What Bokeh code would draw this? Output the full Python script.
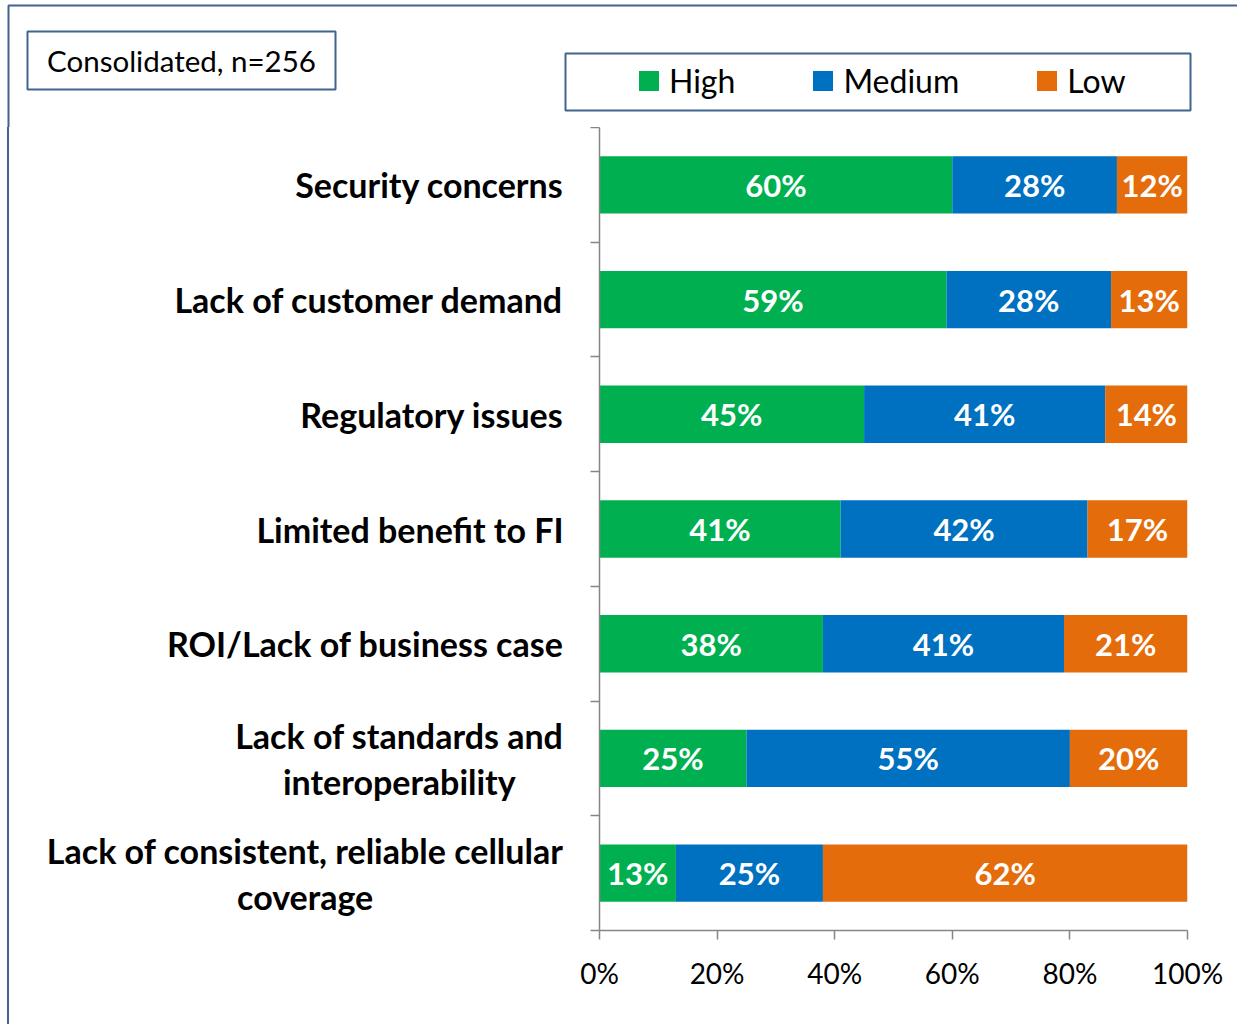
from bokeh.plotting import figure
from bokeh.layouts import column, row
from bokeh.models import (Range1d, FixedTicker, ColumnDataSource, Legend, LegendItem,
                          BoxAnnotation, Label, PrintfTickFormatter, Div)
from bokeh.core.properties import value
from bokeh.embed import file_html
from bokeh.resources import INLINE

# ---------------- data ----------------
categories = [
    "Security concerns",
    "Lack of customer demand",
    "Regulatory issues",
    "Limited benefit to FI",
    "ROI/Lack of business case",
    "Lack of standards and\ninteroperability",
    "Lack of consistent, reliable cellular\ncoverage",
]
high = [60, 59, 45, 41, 38, 25, 13]
medium = [28, 28, 41, 42, 41, 55, 25]
low = [12, 13, 14, 17, 21, 20, 62]
series_names = ["High", "Medium", "Low"]
colors = ["#00B050", "#0070C0", "#E46C0A"]
x_ticks = [0, 20, 40, 60, 80, 100]
note_text = "Consolidated, n=256"

# ---------------- style / layout constants ----------------
FONT = "Lato"
AXIS_GRAY = "#868686"
BORDER_BLUE = "#41648F"
W, H = 1237, 1024
HEADER_H = 127          # header strip height
EDGE_W = 10             # strip carrying the outer border's left line
LEFT_W = 570            # right edge of category-label strip
FRAME_L, FRAME_R = 599, 1187
FRAME_B = 930

n = len(categories)
ypos = [n - 1 - i for i in range(n)]
bottom_pad = H - FRAME_B

def bare(fig):
    fig.outline_line_color = None
    fig.background_fill_color = "white"
    fig.border_fill_color = "white"
    return fig

def box(l, r, t, b):
    return BoxAnnotation(left=l, right=r, top=t, bottom=b, fill_alpha=0,
                         line_color=BORDER_BLUE, line_alpha=1, line_width=2)

# ---------------- header ----------------
hdr = bare(figure(width=W, height=HEADER_H, x_range=Range1d(0, W), y_range=Range1d(HEADER_H, 0),
                  x_axis_type=None, y_axis_type=None, output_backend="svg",
                  toolbar_location=None, min_border=0))
hdr.add_layout(box(8, W + 50, 5, HEADER_H + 50))      # outer chart border (top/left)
hdr.add_layout(box(27, 335, 31, 89))                  # note box
hdr.add_layout(box(565, 1190, 53, 110))               # legend box
hdr.add_layout(Label(x=181, y=60, text=note_text, text_font=FONT, text_font_size="29.5px",
                     text_color="black", text_align="center", text_baseline="middle"))
# zero-size proxies that only supply the legend swatches
proxies = [hdr.hbar(y=[0], left=[0], right=[0], height=0, color=c, line_color=None)
           for c in colors]
legend = Legend(items=[LegendItem(label=nm, renderers=[r]) for nm, r in zip(series_names, proxies)],
                orientation="horizontal", location=(636, 27),
                padding=0, margin=0, spacing=75, label_standoff=8,
                glyph_width=25, glyph_height=25,
                border_line_color=None, background_fill_alpha=0,
                label_text_font=FONT, label_text_font_size="32px",
                label_text_color="black")
hdr.add_layout(legend, "center")

# ---------------- outer border left line below header ----------------
edge = Div(text=f'<div style="width:2px;height:{H - HEADER_H}px;margin-left:7px;'
                f'background:{BORDER_BLUE}"></div>',
           width=EDGE_W, height=H - HEADER_H, margin=0)

# ---------------- main bar chart ----------------
y_rng = Range1d(-0.5, n - 0.5)
source = ColumnDataSource(dict(y=ypos, High=high, Medium=medium, Low=low))
p = bare(figure(width=W - LEFT_W, height=H - HEADER_H,
                x_range=Range1d(0, 100), y_range=y_rng,
                output_backend="svg", toolbar_location=None,
                min_border_left=FRAME_L - LEFT_W, min_border_right=W - FRAME_R,
                min_border_top=0, min_border_bottom=bottom_pad))
p.xgrid.visible = False
p.ygrid.visible = False

p.hbar_stack(series_names, y="y", height=0.5, color=colors, line_color=None, source=source)

lx, ly, lt = [], [], []
stack = [high, medium, low]
for k, vals in enumerate(stack):
    for i in range(n):
        start = sum(s[i] for s in stack[:k])
        lx.append(start + vals[i] / 2)
        ly.append(ypos[i])
        lt.append(f"{vals[i]}%")
lab_src = ColumnDataSource(dict(x=lx, y=ly, t=lt))
p.text(x="x", y="y", text="t", source=lab_src, text_color="white",
       text_font=value(FONT), text_font_style="bold", text_font_size="31px",
       text_align="center", text_baseline="middle")

ya = p.yaxis[0]
ya.ticker = FixedTicker(ticks=[], minor_ticks=[k - 0.5 for k in range(n + 1)])
ya.major_label_standoff = 0
ya.major_tick_line_color = None
ya.major_tick_out = 0
ya.major_tick_in = 0
ya.minor_tick_out = 9
ya.minor_tick_in = 0
ya.minor_tick_line_color = AXIS_GRAY
ya.minor_tick_line_width = 1.5
ya.axis_line_color = AXIS_GRAY
ya.axis_line_width = 1.5

xa = p.xaxis[0]
xa.ticker = FixedTicker(ticks=x_ticks)
xa.formatter = PrintfTickFormatter(format="%d%%")
xa.major_tick_out = 9
xa.major_tick_in = 0
xa.major_tick_line_color = AXIS_GRAY
xa.major_tick_line_width = 1.5
xa.minor_tick_line_color = None
xa.axis_line_color = AXIS_GRAY
xa.axis_line_width = 1.5
xa.major_label_text_font = FONT
xa.major_label_text_font_size = "28px"
xa.major_label_text_color = "black"
xa.major_label_standoff = 16

# ---------------- category label strip (shares the bar chart's y scale) ----------------
cl = bare(figure(width=LEFT_W - EDGE_W, height=H - HEADER_H, x_range=Range1d(EDGE_W, LEFT_W),
                 y_range=y_rng, x_axis_type=None, y_axis_type=None, output_backend="svg",
                 toolbar_location=None, min_border_left=0, min_border_right=0,
                 min_border_top=0, min_border_bottom=bottom_pad))
cat_src = ColumnDataSource(dict(y=ypos, t=categories, x=[563] * n))
cl.text(x="x", y="y", text="t", source=cat_src, anchor="center_right", text_align="center",
        text_baseline="middle", text_font=value(FONT), text_font_style="bold",
        text_font_size="34px", text_color="black", text_line_height=1.12)

layout = column(hdr, row(edge, cl, p, spacing=0), spacing=0)
open("out.html", "w").write(file_html(layout, INLINE))
